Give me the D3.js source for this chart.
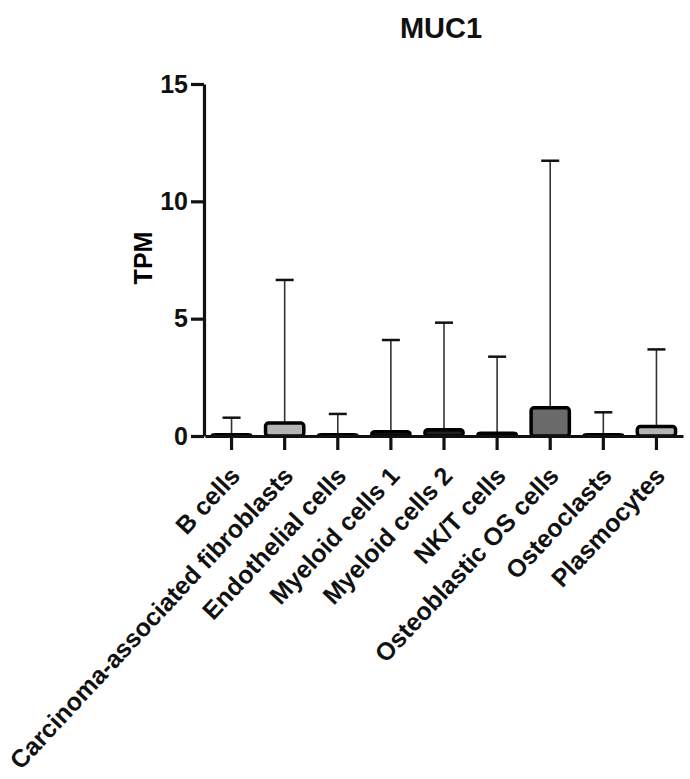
<!DOCTYPE html>
<meta charset="utf-8">
<style>
    body { margin: 0; background: #fff; }
    .axis text { font: bold 25px "Liberation Sans", Arial, sans-serif; fill: #111; }
    .axis path, .axis line { stroke: #111; stroke-width: 3.2px; }
    .xlab { font: bold 25px "Liberation Sans", Arial, sans-serif; fill: #111; }
    .title { font: bold 29px "Liberation Sans", Arial, sans-serif; fill: #111; }
    .bar { stroke: #000; stroke-width: 3.5px; }
    .err { stroke: #333; stroke-width: 1.6px; }
    .cap { stroke: #111; stroke-width: 2.5px; }
</style>
<svg id="svg" width="690" height="779"></svg>
<script src="https://d3js.org/d3.v7.min.js"></script>
<script>

var categories = ["B cells", "Carcinoma-associated fibroblasts", "Endothelial cells",
    "Myeloid cells 1", "Myeloid cells 2", "NK/T cells", "Osteoblastic OS cells",
    "Osteoclasts", "Plasmocytes"];
var means = [0.05, 0.55, 0.05, 0.18, 0.27, 0.12, 1.2, 0.05, 0.4];
var upper = [0.78, 6.65, 0.94, 4.09, 4.83, 3.38, 11.73, 1.01, 3.69];
var fills = ["#222", "#b4b4b4", "#222", "#222", "#222", "#222", "#6a6a6a", "#222", "#b4b4b4"];
var yTicks = [0, 5, 10, 15];

var svg = d3.select("svg");

var x = d3.scaleBand()
    .domain(categories)
    .range([205, 683])
    .paddingInner(0.28)
    .paddingOuter(0.14);

var y = d3.scaleLinear()
    .domain([0, 15])
    .range([436, 84]);

svg.append("text")
    .attr("class", "title")
    .attr("x", 441)
    .attr("y", 38)
    .attr("text-anchor", "middle")
    .text("MUC1");

// error bars first, bars on top
var g = svg.selectAll(".item")
    .data(categories)
    .enter().append("g");

g.append("line")
    .attr("class", "err")
    .attr("x1", function(d) { return x(d) + x.bandwidth() / 2; })
    .attr("x2", function(d) { return x(d) + x.bandwidth() / 2; })
    .attr("y1", function(d, i) { return y(means[i]); })
    .attr("y2", function(d, i) { return y(upper[i]); });

g.append("line")
    .attr("class", "cap")
    .attr("x1", function(d) { return x(d) + x.bandwidth() / 2 - 9; })
    .attr("x2", function(d) { return x(d) + x.bandwidth() / 2 + 9; })
    .attr("y1", function(d, i) { return y(upper[i]); })
    .attr("y2", function(d, i) { return y(upper[i]); });

g.append("rect")
    .attr("class", "bar")
    .attr("x", function(d) { return x(d); })
    .attr("width", x.bandwidth())
    .attr("y", function(d, i) { return y(means[i]); })
    .attr("height", function(d, i) { return y(0) - y(means[i]); })
    .attr("rx", 3)
    .attr("fill", function(d, i) { return fills[i]; });

svg.append("g")
    .attr("class", "axis")
    .attr("transform", "translate(204,0)")
    .call(d3.axisLeft(y).tickValues(yTicks).tickSize(13).tickSizeOuter(0).tickPadding(3));

var xa = svg.append("g")
    .attr("class", "axis")
    .attr("transform", "translate(0,436)")
    .call(d3.axisBottom(x).tickSize(14).tickSizeOuter(0).tickFormat(""));

svg.selectAll(".xlab")
    .data(categories)
    .enter().append("text")
    .attr("class", "xlab")
    .attr("text-anchor", "end")
    .attr("transform", function(d) {
        return "translate(" + (x(d) + x.bandwidth() / 2 + 10) + ",477) rotate(-47)";
    })
    .text(function(d) { return d; });

svg.append("text")
    .attr("class", "axis")
    .attr("transform", "translate(152,258) rotate(-90)")
    .attr("text-anchor", "middle")
    .style("font", "bold 25px 'Liberation Sans', Arial, sans-serif")
    .text("TPM");

</script>
